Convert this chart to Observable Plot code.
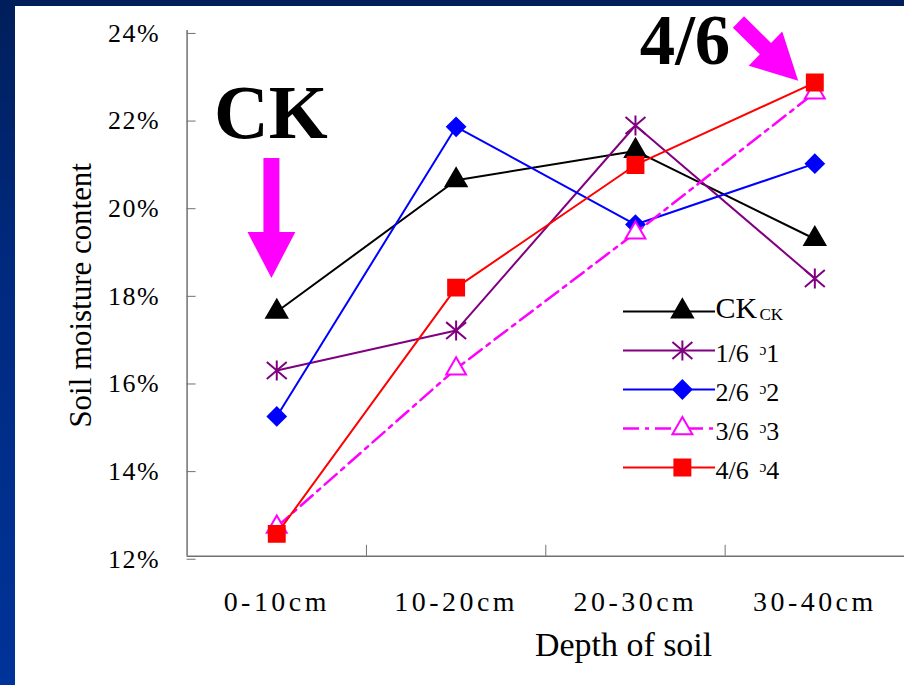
<!DOCTYPE html>
<html>
<head>
<meta charset="utf-8">
<script src="https://cdn.jsdelivr.net/npm/d3@7"></script>
<script src="https://cdn.jsdelivr.net/npm/@observablehq/plot@0.6"></script>
<style>
html, body { margin: 0; padding: 0; width: 904px; height: 685px; overflow: hidden; }
body { position: relative; background: linear-gradient(180deg, #001e5a 0%, #00297c 35%, #003399 100%); font-family: "Liberation Serif", serif; }
#panel { position: absolute; left: 15px; top: 6px; width: 889px; height: 679px; background: #fff; }
#chart { position: absolute; left: 0; top: 0; }
#legend { position: absolute; left: 615px; top: 290px; }
g[aria-label="x-axis tick label"] text { letter-spacing: 3.5px; }
g[aria-label="y-axis tick label"] text { letter-spacing: 1.5px; }
g[aria-label="y-title"] text { letter-spacing: 0.6px; }
g[aria-label="x-title"] text { letter-spacing: 1.5px; }
g[aria-label="legend-label"] text { letter-spacing: 4px; }
</style>
</head>
<body>
<div id="panel"></div>
<div id="chart"></div>
<div id="legend"></div>
<script>
// ---- data ----
const depths = ["0-10cm", "10-20cm", "20-30cm", "30-40cm"];
const seriesNames = ["CK", "1/6", "2/6", "3/6", "4/6"];
const legendSuffix = ["CK", "ᵓ1", "ᵓ2", "ᵓ3", "ᵓ4"];
const ck = [17.58, 20.58, 21.25, 19.24];
const t1 = [16.24, 17.15, 21.83, 18.34];
const t2 = [15.19, 21.80, 19.57, 20.96];
const t3 = [12.67, 16.28, 19.38, 22.58];
const t4 = [12.51, 18.13, 20.93, 22.81];
const yTicks = [12, 14, 16, 18, 20, 22, 24];
const calloutText = ["CK", "4/6"];
const calloutPos = [[0.467, 22.09], [2.776, 23.76]];
const arrowTail = [[0.473, 21.08], [3.077, 24.18]];
const arrowTip = [[0.473, 18.34], [3.41, 22.84]];

// ---- styles ----
const excelStar = {
  draw(context, size) {
    const r = Math.sqrt(size / Math.PI);
    context.moveTo(0, -r); context.lineTo(0, r);
    context.moveTo(-r, -r * 0.85); context.lineTo(r, r * 0.85);
    context.moveTo(-r, r * 0.85); context.lineTo(r, -r * 0.85);
  }
};
const styles = {
  "CK":  {stroke: "#000000", symbol: "triangle", fill: "#000000", r: 7.8, dash: null, width: 2},
  "1/6": {stroke: "#800080", symbol: excelStar, fill: "none", r: 10, dash: null, width: 2},
  "2/6": {stroke: "#0000ff", symbol: "diamond2", fill: "#0000ff", r: 8.1, dash: null, width: 2},
  "3/6": {stroke: "#ff00ff", symbol: "triangle2", fill: "#ffffff", r: 9.5, dash: "16,6,4,6", width: 2.5},
  "4/6": {stroke: "#ff0000", symbol: "square", fill: "#ff0000", r: 9, dash: null, width: 2}
};

const seriesValues = [ck, t1, t2, t3, t4];
const rows = seriesNames.flatMap((s, si) => depths.map((d, i) => ({series: s, depth: d, idx: i, value: seriesValues[si][i]})));

function arrowsMark(index, scales) {
  const g = d3.create("svg:g").attr("aria-label", "callout-arrows");
  arrowTail.forEach((t, i) => {
    const x0 = scales.x(t[0]), y0 = scales.y(t[1]);
    const x1 = scales.x(arrowTip[i][0]), y1 = scales.y(arrowTip[i][1]);
    const L = Math.hypot(x1 - x0, y1 - y0);
    const ang = Math.atan2(y1 - y0, x1 - x0) * 180 / Math.PI;
    const hl = 46, hw = 24, sw = 8;
    const p = d3.path();
    p.moveTo(0, -sw); p.lineTo(L - hl, -sw); p.lineTo(L - hl, -hw); p.lineTo(L, 0);
    p.lineTo(L - hl, hw); p.lineTo(L - hl, sw); p.lineTo(0, sw); p.closePath();
    g.append("path").attr("d", p.toString()).attr("fill", "#ff00ff")
      .attr("transform", `translate(${x0},${y0}) rotate(${ang})`);
  });
  return g.node();
}

const seriesMarks = seriesNames.flatMap(s => {
  const st = styles[s];
  const data = rows.filter(r => r.series === s);
  return [
    Plot.line(data, {x: d => d.idx + 0.5, y: "value", stroke: st.stroke, strokeWidth: st.width, strokeDasharray: st.dash}),
    Plot.dot(data, {x: d => d.idx + 0.5, y: "value", symbol: st.symbol, r: st.r, fill: st.fill, stroke: st.stroke, strokeWidth: 2})
  ];
});

const chart = Plot.plot({
  width: 906,
  height: 685,
  marginLeft: 187,
  marginRight: 0,
  marginTop: 30,
  marginBottom: 128,
  x: {type: "linear", domain: [0, depths.length], axis: null, label: null},
  y: {type: "linear", domain: [yTicks[0], yTicks[yTicks.length - 1]], axis: null, label: null},
  style: {background: "transparent", fontFamily: "Liberation Serif", overflow: "visible", color: "#000"},
  marks: [
    Plot.ruleX([0], {stroke: "#707070", strokeWidth: 1.5}),
    Plot.ruleY([yTicks[0]], {stroke: "#707070", strokeWidth: 1.5}),
    Plot.axisY({ticks: yTicks, tickSize: -9, tickPadding: 36, tickFormat: d => d + "%", stroke: "#707070", fontSize: 26, dy: 3, label: null}),
    Plot.axisX({ticks: depths.slice(1).map((d, i) => i + 1), tickSize: -11, tickFormat: () => "", stroke: "#707070", label: null}),
    Plot.axisX({ticks: depths.map((d, i) => i + 0.5), tickSize: 0, tickPadding: 35, tickFormat: v => depths[Math.floor(v)], fontSize: 28, label: null}),
    Plot.text(["Soil moisture content"], {frameAnchor: "left", text: d => d, textAnchor: "middle", lineAnchor: "middle", rotate: -90, dx: -106, dy: 2, fontSize: 31, ariaLabel: "y-title"}),
    Plot.text(["Depth of soil"], {frameAnchor: "bottom", text: d => d, textAnchor: "middle", dx: 78, dy: 76, lineAnchor: "top", fontSize: 34, ariaLabel: "x-title"}),
    ...seriesMarks,
    arrowsMark,
    Plot.text([calloutText[0]], {x: () => calloutPos[0][0], y: () => calloutPos[0][1], text: d => d, fontSize: 76, fontWeight: "bold", ariaLabel: "callout"}),
    Plot.text([calloutText[1]], {x: () => calloutPos[1][0], y: () => calloutPos[1][1], text: d => d, fontSize: 71, fontWeight: "bold", ariaLabel: "callout"})
  ]
});
document.getElementById("chart").appendChild(chart);

// ---- legend ----
const legendMarks = seriesNames.flatMap((s, i) => {
  const st = styles[s];
  const big = s === "CK";
  return [
    Plot.ruleY([s], {x1: () => 0, x2: () => 1, y: d => d, stroke: st.stroke, strokeWidth: st.width, strokeDasharray: st.dash}),
    Plot.dot([s], {x: () => 0.64, y: d => d, symbol: st.symbol, r: st.r, fill: st.fill, stroke: st.stroke, strokeWidth: 2}),
    Plot.text([s], {x: () => 1, y: d => d, text: d => d, textAnchor: "start", fontSize: big ? 30 : 26, dy: big ? -3.6 : 3, ariaLabel: big ? "legend-ck" : "legend-label"}),
    Plot.text([legendSuffix[i]], {x: () => 1, y: () => s, text: d => d, textAnchor: "start", dx: 44, fontSize: big ? 17 : 26, dy: big ? 2.6 : 3, ariaLabel: "legend-suffix"})
  ];
});
const legend = Plot.plot({
  width: 200,
  height: 200,
  marginLeft: 8,
  marginRight: 100,
  marginTop: 20,
  marginBottom: 22,
  x: {type: "linear", domain: [0, 1], axis: null},
  y: {type: "point", domain: seriesNames, padding: 0, axis: null},
  style: {background: "transparent", fontFamily: "Liberation Serif", overflow: "visible", color: "#000"},
  marks: legendMarks
});
document.getElementById("legend").appendChild(legend);
</script>
</body>
</html>
